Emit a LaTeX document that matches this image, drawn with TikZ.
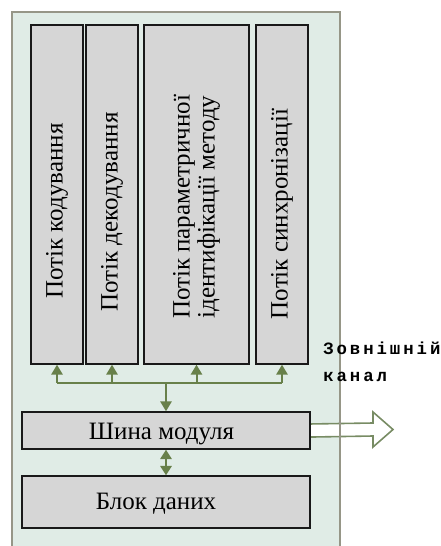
\documentclass[tikz,border=0pt]{standalone}
\usepackage{fontspec}
\setmainfont{Liberation Serif}
\newfontfamily\extfont[LetterSpace=17]{Liberation Mono}
\usetikzlibrary{arrows.meta,fit}
\definecolor{outerfill}{RGB}{224,236,230}
\definecolor{outerline}{RGB}{150,150,135}
\definecolor{boxfill}{RGB}{214,214,214}
\definecolor{gline}{RGB}{104,128,74}
\definecolor{bigarrow}{RGB}{120,140,100}
\begin{document}
\begin{tikzpicture}[x=0.75pt,y=-0.75pt,
  blk/.style={draw=black!90, line width=1.1pt, fill=boxfill, inner sep=0pt},
  vtext/.style={rotate=90, font=\fontsize{18.75}{18.75}\selectfont, align=center, inner sep=0pt},
  htext/.style={font=\fontsize{18.75}{18.75}\selectfont, anchor=base, inner sep=0pt},
  gconn/.style={draw=gline, line width=1.5pt},
  garrow/.style={gconn, -{Triangle[width=8.5pt,length=7.5pt]}},
  gdouble/.style={gconn, {Triangle[width=8.5pt,length=7pt]}-{Triangle[width=8.5pt,length=7pt]}}
]
\useasboundingbox (0,0) rectangle (440,546);
\begin{scope}
\clip (0,0) rectangle (440,546);
% outer module frame (fill)
\fill[outerfill] (12,12) rectangle (340,560);
% bus and data blocks
\node[blk, fit={(22,412) (310,449)}] (bus) {};
\node[blk, fit={(22,476) (310,528)}] (data) {};
% hollow output arrow
\coordinate (tip) at (393,429.5);
\filldraw[fill=white, draw=bigarrow, line width=1.2pt]
  ([yshift=4.9pt]bus.east) -- (373,423) -- (373,412) -- (tip) -- (373,447) -- (373,436) -- ([yshift=-4.9pt]bus.east);
% outer frame border
\draw[outerline, line width=1.5pt] (12,560) -- (12,12) -- (340,12) -- (340,560);
% redraw bus over arrow start
\node[blk, fit={(22,412) (310,449)}] (bus) {};
% thread columns
\node[blk, fit={(31,25) (83,364)}] (c1) {};
\node[blk, fit={(86,25) (138,364)}] (c2) {};
\node[blk, fit={(144,25) (249,364)}] (c3) {};
\node[blk, fit={(256,25) (308,364)}] (c4) {};
\node[vtext] (t1) at (57,211) {Потік кодування};
\node[vtext] (t2) at (112,212) {Потік декодування};
\node[vtext] (t3) at (196.5,207) {Потік параметричної\\ідентифікації методу};
\node[vtext] (t4) at (282,214) {Потік синхронізації};
\node[htext] (tb) at (161.5,439) {Шина модуля};
\node[htext] (td) at (156,509) {Блок даних};
% connectors
\coordinate (j) at (bus.north |- 0,382.7);
\draw[gconn] (c1.south |- j) -- (c4.south |- j);
\draw[garrow] (c1.south |- j) -- (c1.south);
\draw[garrow] (c2.south |- j) -- (c2.south);
\draw[garrow] (c3.south |- j) -- (c3.south);
\draw[garrow] (c4.south |- j) -- (c4.south);
\draw[garrow] (j) -- (bus.north);
\draw[gdouble] (bus.south) -- (data.north);
% external channel label
\node[font=\extfont\bfseries\fontsize{13}{20.25}\selectfont, anchor=base west, align=left, inner sep=0pt] (ext) at (323,381.5) {Зовнішній\\канал};
\end{scope}
\end{tikzpicture}
\end{document}
